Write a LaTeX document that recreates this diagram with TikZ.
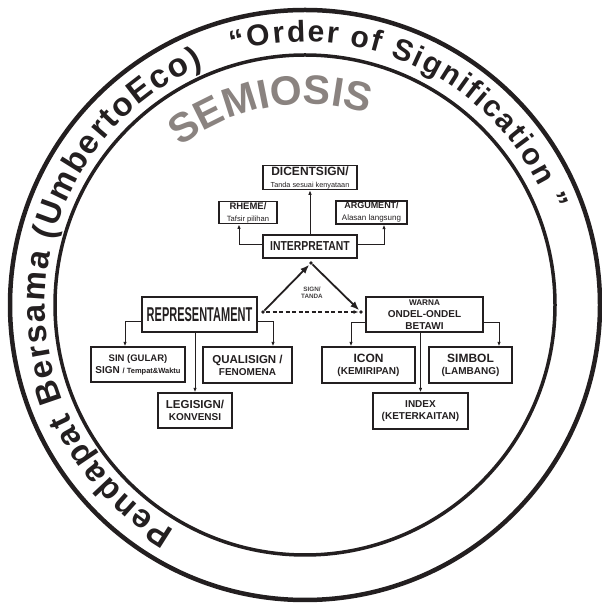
\documentclass[tikz,border=0pt]{standalone}
\usepackage{fontspec}
\setmainfont{Liberation Sans}
\newfontfamily\narrowfont[FakeStretch=0.55]{Liberation Sans}
\newfontfamily\semifont[FakeStretch=0.8]{Liberation Sans}
\usetikzlibrary{arrows.meta, decorations.text}
\definecolor{inkcolor}{RGB}{35,31,32}
\definecolor{semcolor}{RGB}{138,131,128}
\newcommand{\outerr}{295}
\newcommand{\innerr}{250}
\newcommand{\ringr}{260}
\newcommand{\fsz}[2]{\fontsize{#1}{#2}\selectfont}

\begin{document}
\begin{tikzpicture}[x=1pt, y=1pt, >=Latex]
        \useasboundingbox (0, 0) rectangle (602, 608);
        \tikzset{
            box/.style={draw=inkcolor, line width=1.3pt, inner sep=1pt, align=center, text=inkcolor, font=\bfseries},
            link/.style={draw=inkcolor, line width=1pt, -{Latex[length=4.5pt, width=3.5pt]}},
            bigarrow/.style={draw=inkcolor, line width=1.8pt, -{Latex[length=9pt, width=7pt]}, shorten >=2.5pt, shorten <=2pt},
            dasharrow/.style={draw=inkcolor, line width=1.4pt, dash pattern=on 4pt off 2.5pt, -{Latex[length=5pt, width=4pt]}, shorten >=2.5pt, shorten <=3pt},
            ringtext/.style={decorate, decoration={text along path, text align=fit to path, text={#1}}}
        }
        \coordinate (C) at (305, 303);

        % rings
        \draw[inkcolor, line width=4.5pt] (C) circle (\outerr pt);
        \draw[inkcolor, line width=3.5pt] (C) circle (\innerr pt);

        % texts along the rings
        \path[ringtext={|\color{inkcolor}\fsz{33}{33}\bfseries|Pendapat Bersama (UmbertoEco)}] (C) ++(240:\ringr) arc[start angle=240, end angle=113, radius=\ringr pt];
        \path[ringtext={|\color{inkcolor}\fsz{30}{30}\bfseries|“Order of Signification ”}] (C) ++(106:263) arc[start angle=106, end angle=21, radius=263pt];
        \path[decorate, decoration={text along path, text align=center, text={|\color{semcolor}\fsz{41}{41}\bfseries|SEMIOSIS}}] (C) ++(140:201) arc[start angle=140, end angle=60, radius=201pt];

        % interpretant part
        \node (dicent) at (310, 430.5) [box, minimum width=94pt, minimum height=23pt] {\fsz{12}{11}DICENTSIGN/\\\fsz{7.3}{8}\mdseries Tanda sesuai kenyataan};
        \node (rheme) at (248, 395.5) [box, minimum width=58pt, minimum height=21pt] {\fsz{9.5}{9.5}RHEME/\\\fsz{7.6}{8}\mdseries Tafsir pilihan};
        \node (argum) at (371.5, 395.5) [box, minimum width=71pt, minimum height=23pt] {\fsz{9}{9.5}ARGUMENT/\\\fsz{8}{9}\mdseries Alasan langsung};
        \node (interp) at (310, 361.5) [box, minimum width=94pt, minimum height=23pt] {\semifont\fsz{13}{13}INTERPRETANT};

        % representament part
        \node (rep) at (199.5, 293.5) [box, minimum width=115pt, minimum height=35pt] {\narrowfont\fsz{20}{20}REPRESENTAMENT};
        \node (sin) at (138, 243.5) [box, minimum width=94pt, minimum height=35pt] {\fsz{9.5}{11}SIN (GULAR)\\SIGN \fsz{7.5}{11}/ Tempat\&Waktu};
        \node (qual) at (247.5, 243) [box, minimum width=89pt, minimum height=36pt] {\fsz{11.5}{13}QUALISIGN /\\FENOMENA};
        \node (legi) at (195, 197.5) [box, minimum width=74pt, minimum height=35pt] {\fsz{11.5}{13}LEGISIGN/\\KONVENSI};

        % object part
        \node (warna) at (424.5, 293.5) [box, minimum width=117pt, minimum height=35pt] {\fsz{8.2}{9.5}WARNA\\ONDEL-ONDEL\\BETAWI};
        \node (icon) at (368.5, 243) [box, minimum width=93pt, minimum height=36pt] {\fsz{12}{13}ICON\\(KEMIRIPAN)};
        \node (simbol) at (470.5, 243) [box, minimum width=83pt, minimum height=36pt] {\fsz{12}{13}SIMBOL\\(LAMBANG)};
        \node (index) at (420.5, 197) [box, minimum width=95pt, minimum height=36pt] {\fsz{10}{12}INDEX\\(KETERKAITAN)};

        % sign triangle
        \coordinate (lsign) at (263, 296);
        \coordinate (tsign) at (311, 345);
        \coordinate (rsign) at (361, 296);
        \foreach \p in {lsign, tsign, rsign}
            \fill[inkcolor] (\p) circle (1.9pt);
        \draw[bigarrow] (lsign) -- (tsign);
        \draw[bigarrow] (tsign) -- (rsign);
        \draw[dasharrow] (lsign) -- (rsign);
        \node (signlbl) at (312, 315) [align=center, text=inkcolor!85, font=\bfseries\fsz{6.3}{7}] {SIGN/\\TANDA};

        % connectors
        \draw[link] (interp) -- (dicent);
        \draw[link] ([yshift=1.5pt]interp.west) -| ([xshift=-9pt]rheme.south);
        \draw[link] ([yshift=1.5pt]interp.east) -| ([xshift=12.5pt]argum.south);
        \draw[link] ([yshift=-7.5pt]rep.west) -| ([xshift=-13pt]sin.north);
        \draw[link] (rep.south -| legi.north) -- (legi.north);
        \draw[link] ([yshift=-7.5pt]rep.east) -| ([xshift=25.5pt]qual.north);
        \draw[link] ([yshift=-8.5pt]warna.west) -| ([xshift=-17.5pt]icon.north);
        \draw[link] (warna.south -| index.north) -- (index.north);
        \draw[link] ([yshift=-8.5pt]warna.east) -| ([xshift=28.5pt]simbol.north);
    \end{tikzpicture}
\end{document}
